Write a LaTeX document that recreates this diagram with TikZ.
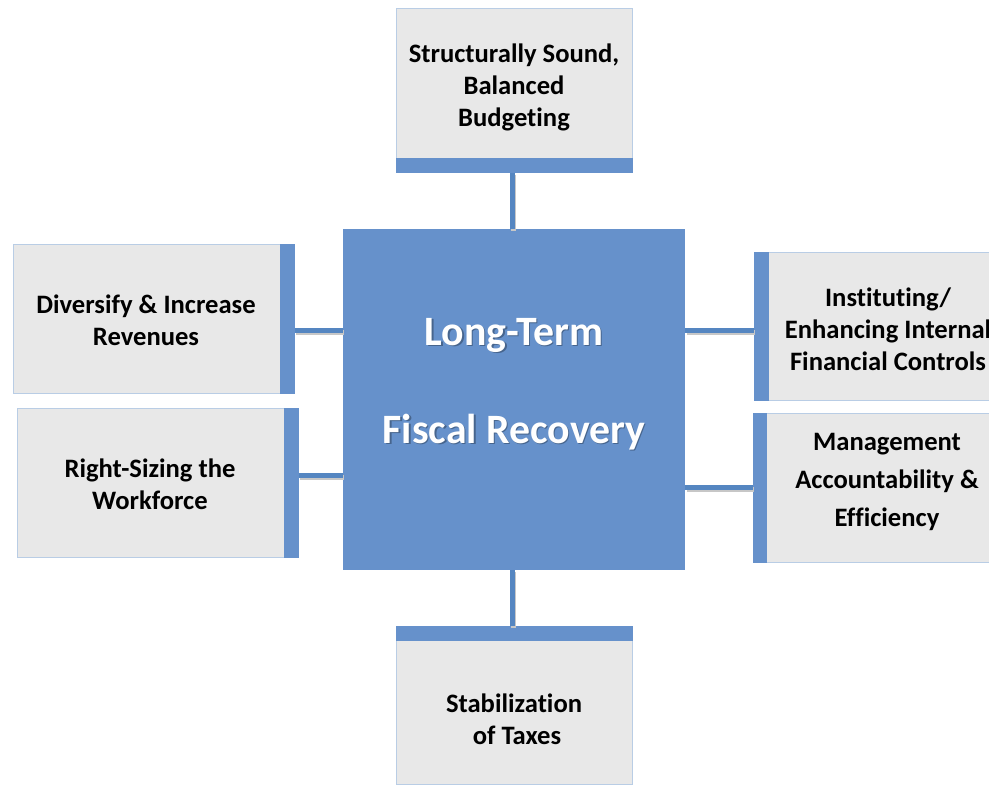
\documentclass[tikz,border=0pt]{standalone}
\usepackage{fontspec}
\setmainfont{Carlito}[Ligatures={NoCommon}]
\usetikzlibrary{calc}
\definecolor{boxgray}{HTML}{E8E8E8}
\definecolor{barblue}{HTML}{6691CB}
\definecolor{connblue}{HTML}{5586C1}
\definecolor{edgeblue}{HTML}{B9CDE5}
\begin{document}
\begin{tikzpicture}[x=1pt,y=-1pt,
  boxshape/.style={draw=edgeblue, line width=0.6pt, fill=boxgray, inner sep=0pt, anchor=north west},
  barfill/.style={fill=barblue},
  conn/.style={draw=connblue, line width=5pt,
    preaction={draw=black!22, line width=5pt, transform canvas={shift={(1.2pt,-2pt)}}}},
  lbl/.style={font=\fontsize{26.6}{32}\selectfont\bfseries, align=center, text=black},
  bigtxt/.style={font=\fontsize{41.8}{48}\selectfont\bfseries},
]
\useasboundingbox (0,0) rectangle (989,785);
\clip (0,0) rectangle (989,785);

% boxes
\node[boxshape, minimum width=236pt, minimum height=164pt] (top) at (396,8) {};
\node[boxshape, minimum width=281pt, minimum height=149pt] (left1) at (13,244) {};
\node[boxshape, minimum width=281pt, minimum height=149pt] (left2) at (17,408) {};
\node[boxshape, minimum width=256pt, minimum height=148pt] (right1) at (754,252) {};
\node[boxshape, minimum width=257pt, minimum height=149pt] (right2) at (753,413) {};
\node[boxshape, minimum width=236pt, minimum height=158pt] (bottom) at (396,626) {};
\node[fill=barblue, inner sep=0pt, minimum width=342pt, minimum height=341pt, anchor=north west] (center) at (343,229) {};

% coloured bars
\fill[barfill] (top.south west) rectangle ($(top.south east)+(0,-15)$);
\fill[barfill] (bottom.north west) rectangle ($(bottom.north east)+(0,15)$);
\fill[barfill] (left1.north east) rectangle ($(left1.south east)+(-15,0)$);
\fill[barfill] (left2.north east) rectangle ($(left2.south east)+(-15,0)$);
\fill[barfill] (right1.north west) rectangle ($(right1.south west)+(15,0)$);
\fill[barfill] (right2.north west) rectangle ($(right2.south west)+(14,0)$);

% connectors
\coordinate (xt) at (512,0);
\coordinate (yl1) at (0,330);
\coordinate (yl2) at (0,475);
\coordinate (yr1) at (0,330);
\coordinate (yr2) at (0,487);
\draw[conn] (top.south -| xt) -- (center.north -| xt);
\draw[conn] (center.south -| xt) -- (bottom.north -| xt);
\draw[conn] (left1.east |- yl1) -- (center.west |- yl1);
\draw[conn] (left2.east |- yl2) -- (center.west |- yl2);
\draw[conn] (center.east |- yr1) -- (right1.west |- yr1);
\draw[conn] (center.east |- yr2) -- (right2.west |- yr2);

% labels
\node[lbl] (ttop) at (514,87) {Structurally Sound,\\Balanced\\Budgeting};
\node[lbl] (tl1) at (146,320) {Diversify \& Increase\\Revenues};
\node[lbl] (tl2) at (150,484) {Right-Sizing the\\Workforce};
\node[lbl] (tr1) at (888,329) {Instituting/\\Enhancing Internal\\Financial Controls};
\node[lbl, font=\fontsize{26.6}{38}\selectfont\bfseries] (tr2) at (887,482) {Management\\Accountability \&\\Efficiency};
\node[lbl] (tbot) at (514,719) {Stabilization\\\ of Taxes};

% centre title with shadow
\node[bigtxt, text=black, opacity=0.3] (sA) at (515.3,336.5) {Long-Term};
\node[bigtxt, text=black, opacity=0.3] (sB) at (515.3,433.5) {Fiscal Recovery};
\node[bigtxt, text=white] (cA) at (514,335) {Long-Term};
\node[bigtxt, text=white] (cB) at (514,432) {Fiscal Recovery};
\end{tikzpicture}
\end{document}
